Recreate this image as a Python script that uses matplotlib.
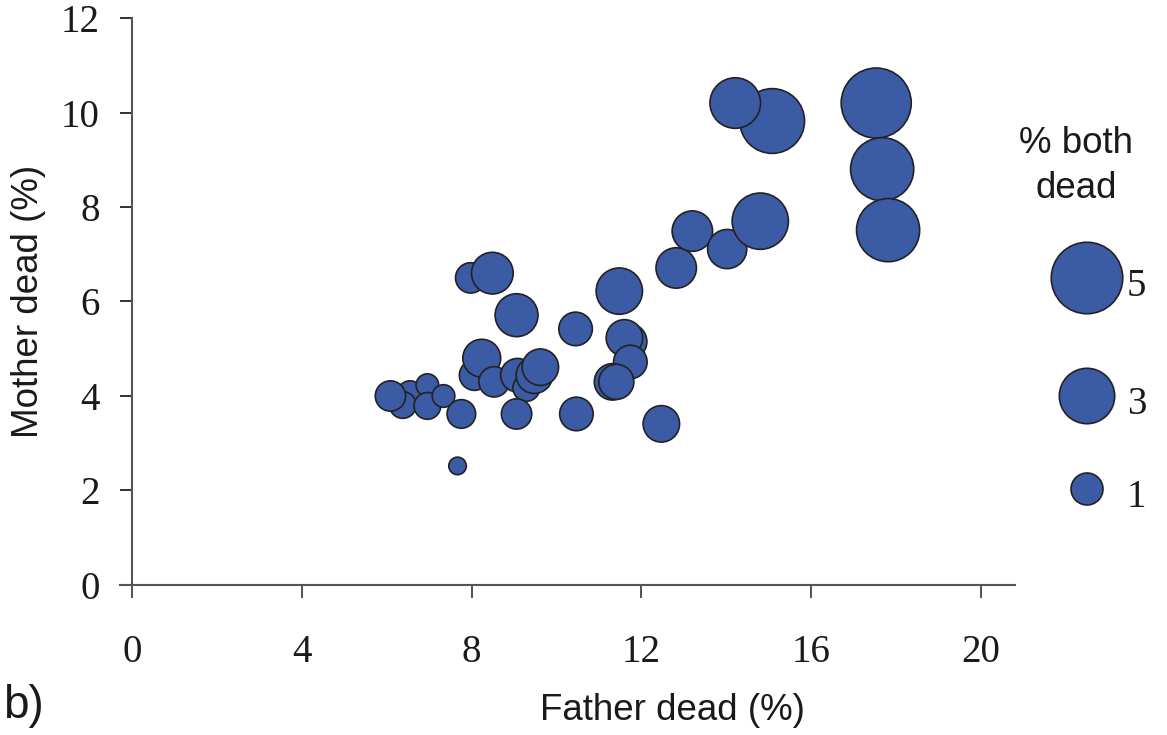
import matplotlib
matplotlib.use("Agg")
import matplotlib.pyplot as plt

# % father dead, % mother dead, % both dead (bubble size)
father_dead = [6.55, 6.38, 6.09, 6.96, 6.96, 7.34, 7.76, 7.67,
               8.07, 8.24, 8.53, 7.98, 8.49, 9.06,
               9.08, 9.29, 9.48, 9.62, 9.06, 10.47, 10.45,
               11.70, 11.60, 11.74, 11.32, 11.41, 11.48, 12.47,
               12.82, 13.20, 14.02, 14.80,
               15.08, 14.21, 17.53, 17.67, 17.81]
mother_dead = [4.06, 3.81, 4.00, 4.23, 3.79, 4.00, 3.62, 2.52,
               4.44, 4.80, 4.30, 6.50, 6.60, 5.71,
               4.44, 4.17, 4.44, 4.61, 3.62, 3.62, 5.42,
               5.15, 5.23, 4.72, 4.30, 4.30, 6.22, 3.41,
               6.71, 7.49, 7.11, 7.70,
               9.82, 10.20, 10.20, 8.80, 7.51]
both_dead = [0.6, 0.7, 0.9, 0.5, 0.7, 0.5, 0.8, 0.3,
             0.9, 1.4, 0.9, 0.9, 1.7, 1.8,
             1.1, 0.7, 1.3, 1.3, 0.9, 1.1, 1.1,
             1.3, 1.3, 1.1, 1.3, 1.2, 2.1, 1.3,
             1.6, 1.6, 1.5, 3.1,
             4.1, 2.5, 4.8, 3.9, 3.9]

legend_values = [5, 3, 1]

x_ticks = [0, 4, 8, 12, 16, 20]
y_ticks = [0, 2, 4, 6, 8, 10, 12]

fill = "#3c5ba5"
edge = "#222222"
size_per_unit = 530  # points^2 per 1 % both dead

serif = "Liberation Serif"
sans = "Liberation Sans"

fig = plt.figure(figsize=(11.67, 7.35), dpi=100)
ax = fig.add_axes([0.1028, 0.2041, 0.7670, 0.7714])

ax.scatter(father_dead, mother_dead, s=[v * size_per_unit for v in both_dead],
           c=fill, edgecolors=edge, linewidths=1.2, zorder=3, clip_on=False)

ax.set_xlim(-0.28, 20.8)
ax.set_ylim(0, 12)
ax.set_xticks(x_ticks)
ax.set_yticks(y_ticks)
ax.spines["left"].set_position(("data", 0))
ax.spines["top"].set_visible(False)
ax.spines["right"].set_visible(False)
for side in ("left", "bottom"):
    ax.spines[side].set_color("#555555")
    ax.spines[side].set_linewidth(1.5)

ax.tick_params(axis="x", direction="out", length=9, width=1.3, color="#444444",
               pad=26, labelsize=28)
ax.tick_params(axis="y", direction="out", length=9, width=1.3, color="#222222",
               pad=14, labelsize=28)
for lab in ax.get_xticklabels() + ax.get_yticklabels():
    lab.set_fontfamily(serif)
    lab.set_color("#1a1a1a")

fig.text(0.576, 0.034, "Father dead (%)", fontsize=26.5, family=sans,
         color="#1a1a1a", ha="center", va="center")
fig.text(0.024, 0.59, "Mother dead (%)", fontsize=26.5, family=sans,
         color="#1a1a1a", ha="center", va="center", rotation=90)
fig.text(0.003, 0.04, "b)", fontsize=33, family=sans, color="#1a1a1a",
         ha="left", va="center")

# size key on the right, laid out in pixel space
key = fig.add_axes([0, 0, 1, 1])
key.set_xlim(0, 1167)
key.set_ylim(735, 0)
key.axis("off")
key_y = [278, 396, 489]
key.scatter([1087] * 3, key_y, s=[v * size_per_unit for v in legend_values],
            c=fill, edgecolors=edge, linewidths=1.2)
for v, y in zip(legend_values, key_y):
    key.text(1127, y + 8, str(v), fontsize=28, family=serif,
             color="#1a1a1a", ha="left", va="center")
key.text(1076, 166, "% both\ndead", fontsize=26.5, family=sans,
         color="#1a1a1a", ha="center", va="center", linespacing=1.4)

fig.savefig("out.png", dpi=100)
